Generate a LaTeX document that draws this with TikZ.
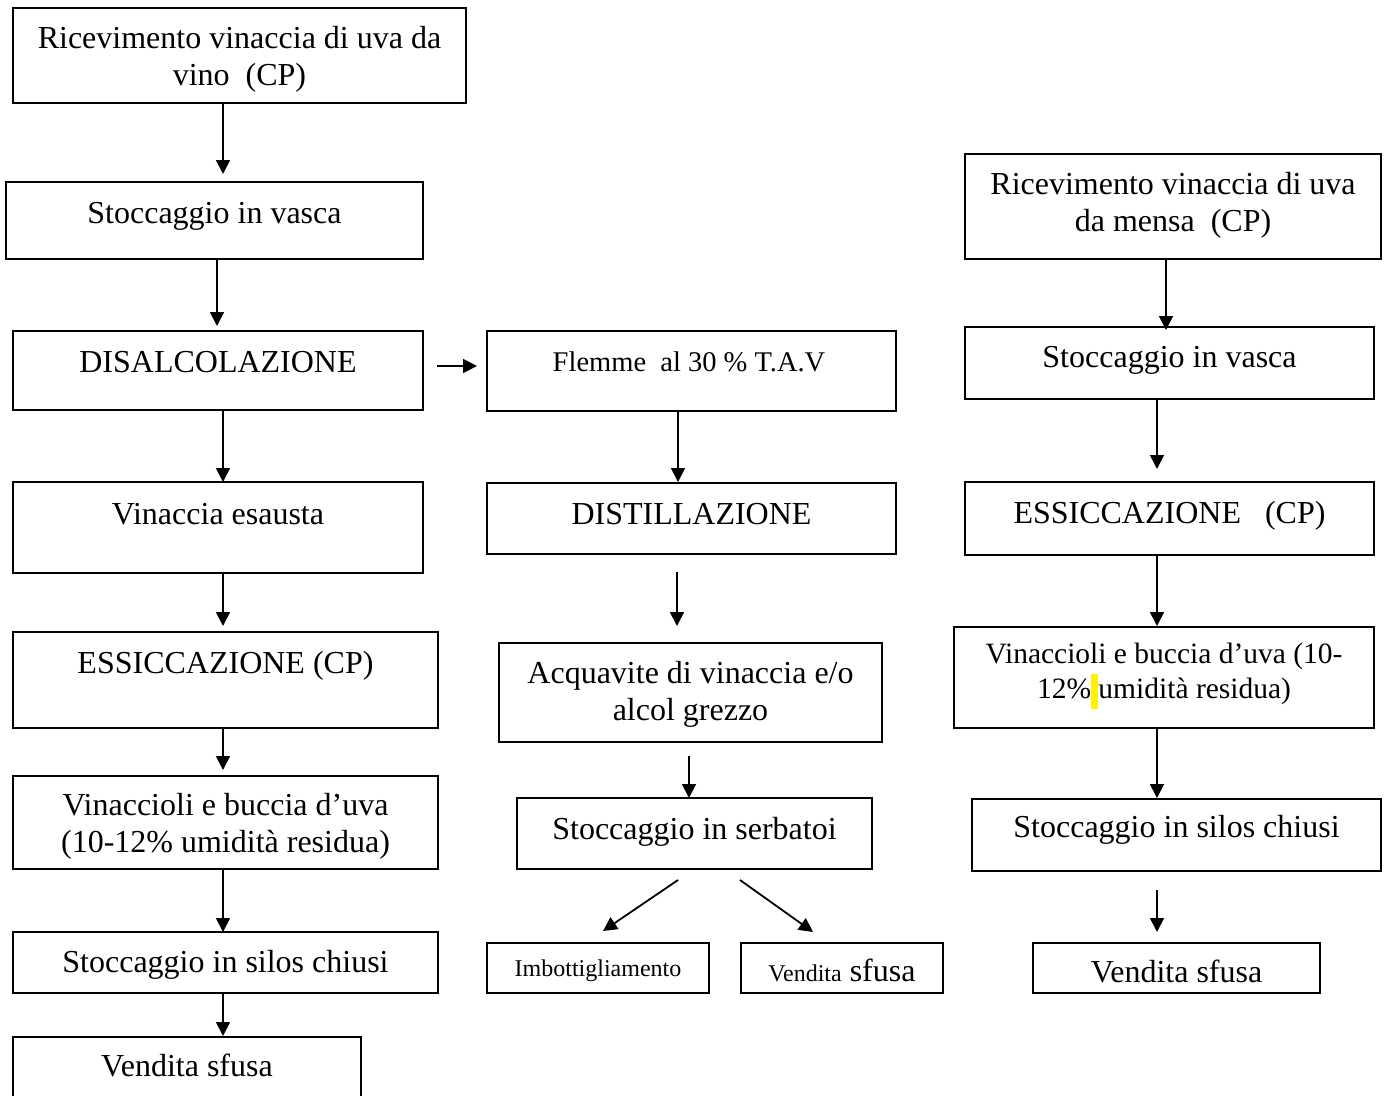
\documentclass[tikz,border=0pt]{standalone}
\usepackage{fontspec}
\setmainfont{Liberation Serif}
\usetikzlibrary{arrows.meta}
\newcommand\bx[5]{\node[boxshape, minimum width={#4-#2}, minimum height={#5-#3}] (#1) at ({(#2+#4)/2},{(#3+#5)/2}) {};}
\newcommand\twol[2]{\begin{tabular}[t]{@{}c@{}}#1\\#2\end{tabular}}
\begin{document}
\begin{tikzpicture}[x=1pt,y=-1pt,
  boxshape/.style={draw, line width=1.8pt, inner sep=0pt, outer sep=0pt},
  txt/.style={inner sep=0pt, anchor=base, font=\fontsize{32}{37}\selectfont},
  arr/.style={line width=1.8pt, -{Triangle[length=14pt,width=14pt]}}]
\useasboundingbox (0,0) rectangle (1389,1095);
\clip (0,0) rectangle (1389,1095);
% ---------- left column ----------
\bx{L1}{13}{8}{466}{103}
\bx{L2}{6}{182}{423}{259}
\bx{L3}{13}{331}{423}{410}
\bx{L4}{13}{482}{423}{573}
\bx{L5}{13}{632}{438}{728}
\bx{L6}{13}{776}{438}{869}
\bx{L7}{13}{932}{438}{993}
\bx{L8}{13}{1037}{361}{1110}
\node[txt] (tL1) at (239.5,48) {\twol{Ricevimento vinaccia di uva da}{vino\ \ (CP)}};
\node[txt] (tL2) at (214.5,223) {Stoccaggio in vasca};
\node[txt] (tL3) at (218,372) {DISALCOLAZIONE};
\node[txt] (tL4) at (218,524) {Vinaccia esausta};
\node[txt] (tL5) at (225.5,673) {ESSICCAZIONE (CP)};
\node[txt] (tL6) at (225.5,815) {\twol{Vinaccioli e buccia d’uva}{(10-12\% umidità residua)}};
\node[txt] (tL7) at (225.5,972) {Stoccaggio in silos chiusi};
\node[txt] (tL8) at (187,1076) {Vendita sfusa};
% ---------- middle column ----------
\bx{M1}{487}{331}{896}{411}
\bx{M2}{487}{483}{896}{554}
\bx{M3}{499}{643}{882}{742}
\bx{M4}{517}{798}{872}{869}
\bx{M5}{487}{943}{709}{993}
\bx{M6}{741}{943}{943}{993}
\node[txt, font=\fontsize{28.5}{34}\selectfont] (tM1) at (689,371) {Flemme\ \ al 30 \% T.A.V};
\node[txt] (tM2) at (691.5,524) {DISTILLAZIONE};
\node[txt] (tM3) at (690.5,683) {\twol{Acquavite di vinaccia e/o}{alcol grezzo}};
\node[txt] (tM4) at (694.5,839) {Stoccaggio in serbatoi};
\node[txt, font=\fontsize{24}{28}\selectfont] (tM5) at (598,976) {Imbottigliamento};
\node[txt] (tM6) at (842,981) {{\fontsize{24}{28}\selectfont Vendita} sfusa};
% ---------- right column ----------
\bx{R1}{965}{154}{1381}{259}
\bx{R2}{965}{327}{1374}{399}
\bx{R3}{965}{482}{1374}{555}
\bx{R4}{954}{627}{1374}{728}
\bx{R5}{972}{799}{1381}{871}
\bx{R6}{1033}{943}{1320}{993}
\node[txt] (tR1) at (1173,194) {\twol{Ricevimento vinaccia di uva}{da mensa\ \ (CP)}};
\node[txt] (tR2) at (1169.5,367) {Stoccaggio in vasca};
\node[txt] (tR3) at (1169.5,523) {ESSICCAZIONE\ \ \ (CP)};
\node[txt, font=\fontsize{29.5}{35}\selectfont] (tR4) at (1164,663) {\twol{Vinaccioli e buccia d’uva (10-}{12\%{\setlength{\fboxsep}{0pt}\colorbox{yellow}{\strut\ }}umidità residua)}};
\node[txt] (tR5) at (1176.5,837) {Stoccaggio in silos chiusi};
\node[txt] (tR6) at (1176.5,982) {Vendita sfusa};
% ---------- connectors: left ----------
\coordinate (a1) at ([xshift=-16.5pt]L1.south);
\draw[arr, shorten >=8pt] (a1) -- (a1 |- L2.north);
\coordinate (a2) at ([xshift=2.5pt]L2.south);
\draw[arr, shorten >=5pt] (a2) -- (a2 |- L3.north);
\coordinate (a3) at ([xshift=5pt]L3.south);
\draw[arr] (a3) -- (a3 |- L4.north);
\coordinate (a4) at ([xshift=5pt]L4.south);
\draw[arr, shorten >=6pt] (a4) -- (a4 |- L5.north);
\coordinate (a5) at ([xshift=-2.5pt]L5.south);
\draw[arr, shorten >=6pt] (a5) -- (a5 |- L6.north);
\coordinate (a6) at ([xshift=-2.5pt]L6.south);
\draw[arr] (a6) -- (a6 |- L7.north);
\coordinate (a7) at ([xshift=-2.5pt]L7.south);
\draw[arr, shorten >=1pt] (a7) -- (a7 |- L8.north);
\coordinate (h1) at ([yshift=4.5pt]L3.east);
\draw[arr, shorten <=14pt, shorten >=10pt] (h1) -- (h1 -| M1.west);
% ---------- connectors: middle ----------
\coordinate (m1) at ([xshift=-13.5pt]M1.south);
\draw[arr, shorten >=1pt] (m1) -- (m1 |- M2.north);
\coordinate (m2) at ([xshift=-14.5pt]M2.south);
\draw[arr, shorten <=18pt, shorten >=17pt] (m2) -- (m2 |- M3.north);
\coordinate (m3) at ([xshift=-1.5pt]M3.south);
\draw[arr, shorten <=14pt] (m3) -- (m3 |- M4.north);
\coordinate (d1s) at ([xshift=-16.5pt,yshift=-11pt]M4.south);
\coordinate (d1e) at ([xshift=5pt,yshift=12pt]M5.north);
\draw[arr] (d1s) -- (d1e);
\coordinate (d2s) at ([xshift=45.5pt,yshift=-11pt]M4.south);
\coordinate (d2e) at ([xshift=-29pt,yshift=11pt]M6.north);
\draw[arr] (d2s) -- (d2e);
% ---------- connectors: right ----------
\coordinate (r1) at ([xshift=-7pt]R1.south);
\draw[arr, shorten >=-3pt] (r1) -- (r1 |- R2.north);
\coordinate (r2) at ([xshift=-12.5pt]R2.south);
\draw[arr, shorten >=13pt] (r2) -- (r2 |- R3.north);
\coordinate (r3) at ([xshift=-12.5pt]R3.south);
\draw[arr, shorten >=1pt] (r3) -- (r3 |- R4.north);
\coordinate (r4) at ([xshift=-7pt]R4.south);
\draw[arr, shorten >=1pt] (r4) -- (r4 |- R5.north);
\coordinate (r5) at ([xshift=-19.5pt]R5.south);
\draw[arr, shorten <=19pt, shorten >=11pt] (r5) -- (r5 |- R6.north);
\end{tikzpicture}
\end{document}
